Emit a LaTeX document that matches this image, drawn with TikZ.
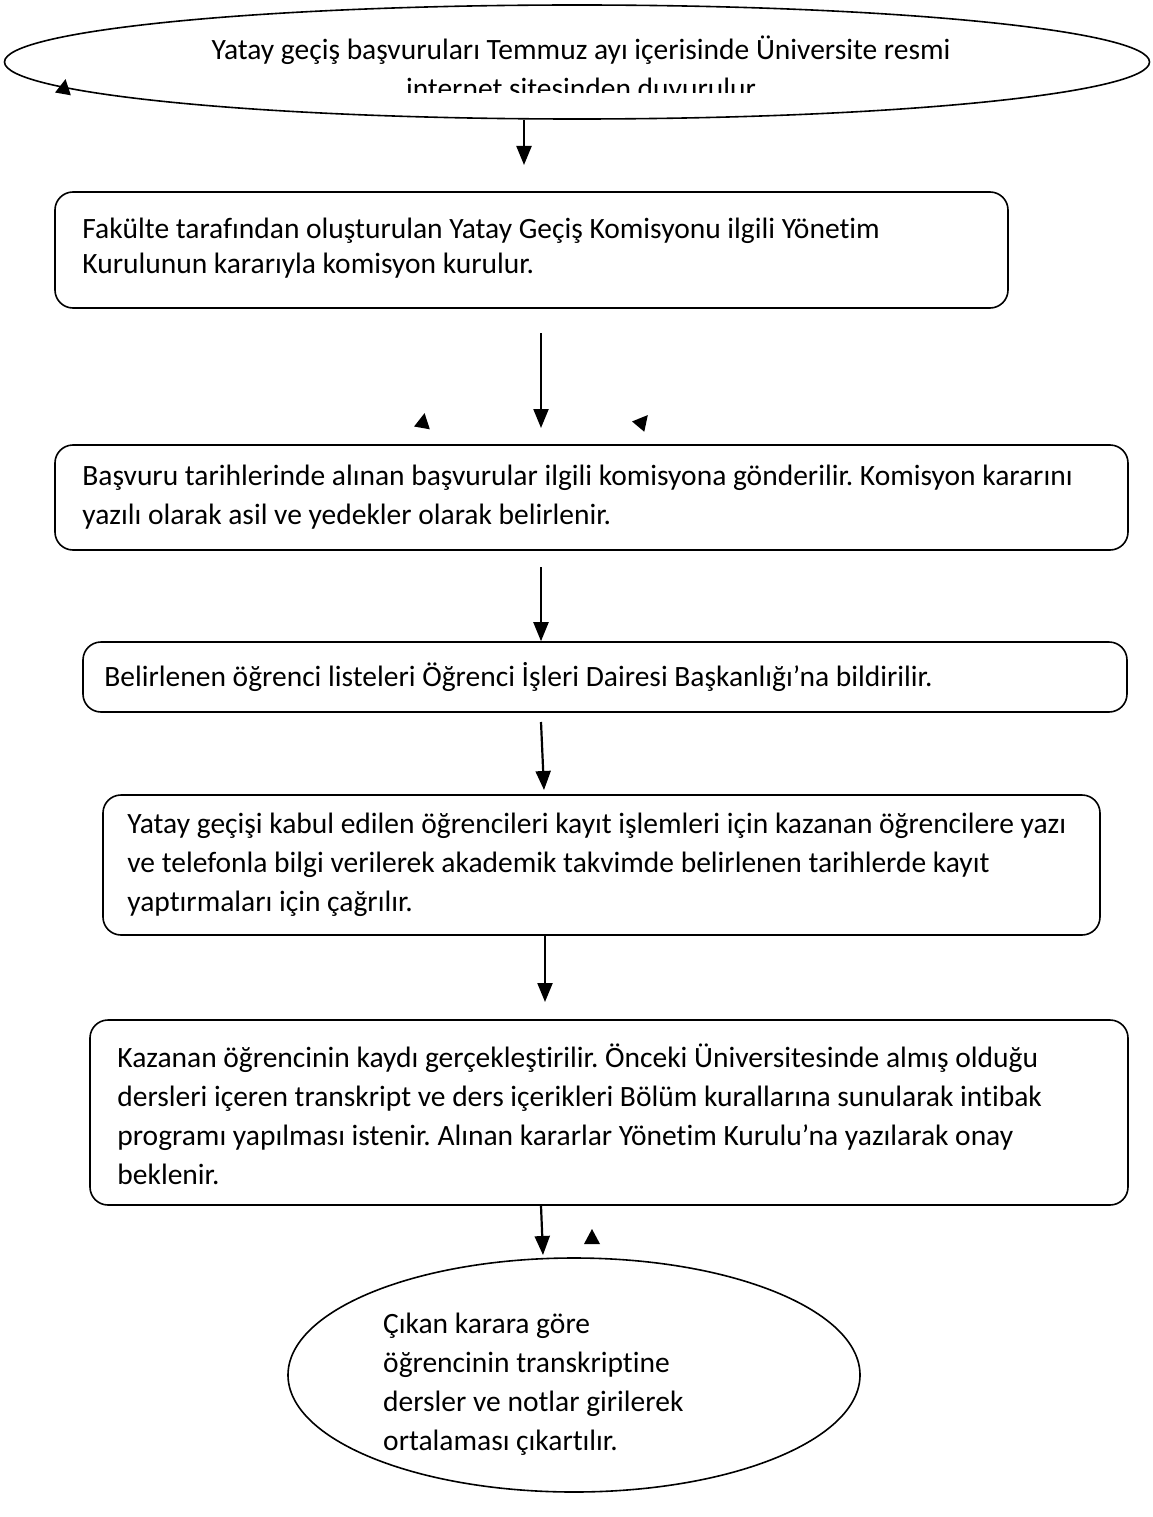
\documentclass[tikz,border=0pt]{standalone}
\usepackage{fontspec}
\setmainfont{Carlito}[Ligatures=NoCommon]
\usetikzlibrary{arrows.meta,shapes.geometric}

\tikzset{
  box/.style={draw,line width=1.6pt,rounded corners=18pt,inner sep=0pt},
  boxtext/.style={anchor=west,align=left,inner sep=0pt},
  oval/.style={draw,ellipse,line width=1.6pt,inner sep=0pt},
  flow/.style={line width=2.2pt,-{Triangle[width=15pt,length=19pt]}},
  tip/.style={fill=black}
}

\begin{document}
\frenchspacing
\begin{tikzpicture}[x=1pt,y=-1pt,font=\fontsize{29.5}{39}\selectfont]
  \useasboundingbox (0,0) rectangle (1153,1517);

  \node[oval,minimum width=1145pt,minimum height=114pt] (duyuru) at (577,62) {};
  \begin{scope}
    \clip (0,0) rectangle (1153,93);
    \node[align=center] (duyuruText) at (581,70) {Yatay geçiş başvuruları Temmuz ayı içerisinde Üniversite resmi\\internet sitesinden duyurulur};
  \end{scope}

  \node[box,minimum width=953pt,minimum height=116pt] (komisyon) at (531.5,250) {};
  \node[boxtext,font=\fontsize{29.5}{35}\selectfont] (komisyonText) at ([xshift=28pt,yshift=2pt]komisyon.west) {Fakülte tarafından oluşturulan Yatay Geçiş Komisyonu ilgili Yönetim\\Kurulunun kararıyla komisyon kurulur.};

  \node[box,minimum width=1073pt,minimum height=105pt] (basvuru) at (591.5,497.5) {};
  \node[boxtext] (basvuruText) at ([xshift=28pt]basvuru.west) {Başvuru tarihlerinde alınan başvurular ilgili komisyona gönderilir. Komisyon kararını\\yazılı olarak asil ve yedekler olarak belirlenir.};

  \node[box,minimum width=1044pt,minimum height=70pt] (liste) at (605,677) {};
  \node[boxtext] (listeText) at ([xshift=22pt]liste.west) {Belirlenen öğrenci listeleri Öğrenci İşleri Dairesi Başkanlığı’na bildirilir.};

  \node[box,minimum width=997pt,minimum height=140pt] (kayit) at (601.5,865) {};
  \node[boxtext] (kayitText) at ([xshift=25pt]kayit.west) {Yatay geçişi kabul edilen öğrencileri kayıt işlemleri için kazanan öğrencilere yazı\\ve telefonla bilgi verilerek akademik takvimde belirlenen tarihlerde kayıt\\yaptırmaları için çağrılır.};

  \node[box,minimum width=1038pt,minimum height=185pt] (intibak) at (609,1112.5) {};
  \node[boxtext] (intibakText) at ([xshift=28pt,yshift=-2pt]intibak.west) {Kazanan öğrencinin kaydı gerçekleştirilir. Önceki Üniversitesinde almış olduğu\\dersleri içeren transkript ve ders içerikleri Bölüm kurallarına sunularak intibak\\programı yapılması istenir. Alınan kararlar Yönetim Kurulu’na yazılarak onay\\beklenir.};

  \node[oval,minimum width=572pt,minimum height=234pt] (ortalama) at (574,1375) {};
  \node[boxtext] (ortalamaText) at (383,1384) {Çıkan karara göre\\öğrencinin transkriptine\\dersler ve notlar girilerek\\ortalaması çıkartılır.};

  % ok uclari
  \coordinate (a1) at (524,165);
  \coordinate (a2s) at (541,333);
  \coordinate (a2e) at (541,428);
  \coordinate (a3s) at (541,567);
  \coordinate (a4s) at (541,722);
  \coordinate (a4e) at (544,790);
  \coordinate (a5e) at (545,1002);
  \coordinate (a6s) at (541,0);
  \coordinate (a6e) at (543,1255);

  \draw[flow] (duyuru.south -| a1) -- (a1);
  \draw[flow] (a2s) -- (a2e);
  \draw[flow] (a3s) -- (liste.north -| a3s);
  \draw[flow] (a4s) -- (a4e);
  \draw[flow] (kayit.south -| a5e) -- (a5e);
  \draw[flow] (intibak.south -| a6s) -- (a6e);

  % bos kalan ok basliklari
  \fill[tip,shift={(64,88)},rotate=-10] (0,-9) -- (-8,6) -- (8,6) -- cycle;
  \fill[tip,shift={(423,422)},rotate=-10] (0,-9) -- (-8,6) -- (8,6) -- cycle;
  \fill[tip,shift={(642,422)},rotate=-40] (0,-9) -- (-8,6) -- (8,6) -- cycle;
  \fill[tip,shift={(592,1238)}] (0,-9) -- (-8,6) -- (8,6) -- cycle;
\end{tikzpicture}
\end{document}
